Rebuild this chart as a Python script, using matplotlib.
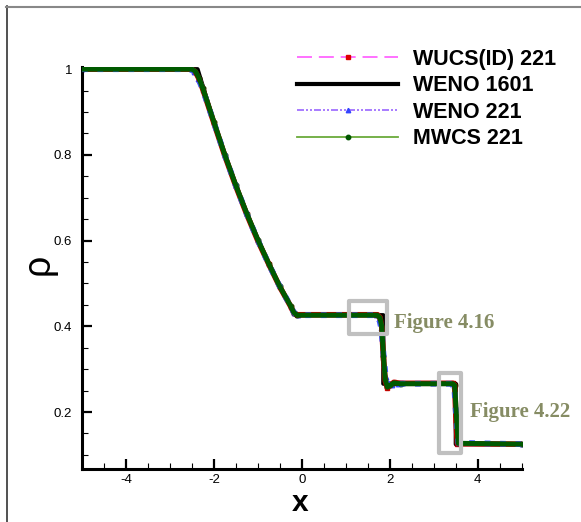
import matplotlib
matplotlib.use("Agg")
import matplotlib.pyplot as plt
from matplotlib.lines import Line2D
from matplotlib.patches import Rectangle
from matplotlib.ticker import MultipleLocator

plt.rcParams['font.family'] = ['Liberation Sans', 'DejaVu Sans']

# reference solution, 1601 points
x_weno1601 = [-5.0, -2.37, -2.25, -2.0, -1.75, -1.5, -1.25, -1.0, -0.75, -0.5, -0.25, -0.14,
              1.855, 1.855, 3.504, 3.504, 5.0]
rho_weno1601 = [1.0, 1.0, 0.960, 0.878, 0.801, 0.730, 0.664, 0.603, 0.547, 0.494, 0.446, 0.426,
                0.426, 0.266, 0.266, 0.125, 0.125]

# 221-point solutions
x_wucs = [-5.0, -2.50, -2.42, -2.34, -2.25, -2.0, -1.75, -1.5, -1.25, -1.0, -0.75, -0.5, -0.25,
          -0.18, -0.10, 1.72, 1.78, 1.82, 1.86, 1.90, 1.95, 2.00, 2.10, 2.25, 3.44, 3.48, 3.51,
          3.54, 5.0]
rho_wucs = [1.0, 1.0, 0.994, 0.978, 0.953, 0.875, 0.798, 0.727, 0.661, 0.600, 0.545, 0.492,
            0.446, 0.431, 0.427, 0.427, 0.421, 0.398, 0.325, 0.272, 0.256, 0.263, 0.269, 0.267,
            0.267, 0.263, 0.180, 0.126, 0.125]

x_weno221 = [-5.0, -2.52, -2.44, -2.35, -2.25, -2.0, -1.75, -1.5, -1.25, -1.0, -0.75, -0.5,
             -0.25, -0.18, -0.08, 1.70, 1.76, 1.81, 1.86, 1.91, 1.97, 2.05, 2.20, 3.43, 3.47,
             3.51, 3.56, 5.0]
rho_weno221 = [1.0, 1.0, 0.993, 0.977, 0.952, 0.876, 0.799, 0.728, 0.662, 0.601, 0.545, 0.493,
               0.447, 0.432, 0.426, 0.426, 0.418, 0.395, 0.335, 0.282, 0.262, 0.264, 0.266,
               0.266, 0.260, 0.195, 0.128, 0.125]

x_mwcs = [-5.0, -2.50, -2.42, -2.34, -2.25, -2.0, -1.75, -1.5, -1.25, -1.0, -0.75, -0.5, -0.25,
          -0.18, -0.10, 1.72, 1.78, 1.82, 1.86, 1.90, 1.95, 2.00, 2.10, 2.25, 3.44, 3.48, 3.52,
          3.56, 5.0]
rho_mwcs = [1.0, 1.0, 0.995, 0.980, 0.955, 0.877, 0.800, 0.729, 0.663, 0.602, 0.546, 0.493,
            0.447, 0.432, 0.426, 0.426, 0.420, 0.400, 0.330, 0.275, 0.258, 0.262, 0.268, 0.266,
            0.266, 0.262, 0.190, 0.127, 0.125]

x_ticks = [-4, -2, 0, 2, 4]
y_ticks = [0.2, 0.4, 0.6, 0.8, 1.0]
y_tick_labels = ['0.2', '0.4', '0.6', '0.8', '1']

# zoom boxes: (x0, y0, width, height) and their labels
boxes = [(1.08, 0.382, 0.85, 0.078), (3.13, 0.105, 0.49, 0.187)]
box_labels = ['Figure 4.16', 'Figure 4.22']
box_label_pos = [(2.11, 0.408), (3.83, 0.199)]

fig = plt.figure(figsize=(5.81, 5.22), dpi=100)
ax = fig.add_axes([0.1411, 0.1015, 0.7565, 0.7701])

# reference line
ax.plot(x_weno1601, rho_weno1601, color='black', lw=3.0, zorder=3, label='WENO 1601')

# styled lines for the legend
ax.plot(x_wucs, rho_wucs, color='#ff66ff', lw=1.3, dashes=(8.3, 3.8), marker='s',
        markersize=3.4, markerfacecolor='#dd0000', markeredgecolor='#dd0000', zorder=2,
        label='WUCS(ID) 221')
ax.plot(x_weno221, rho_weno221, color='#9966ff', lw=1.2,
        dashes=(4.2, 1.2, 1.2, 1.2, 1.2, 1.2), marker='^', markersize=3.2,
        markerfacecolor='#3344ff', markeredgecolor='#3344ff', zorder=2, label='WENO 221')
ax.plot(x_mwcs, rho_mwcs, color='#6aaa3a', lw=1.3, marker='o', markersize=3.2,
        markerfacecolor='#005500', markeredgecolor='#005500', zorder=2, label='MWCS 221')

# dense markers of the 221-point runs look like bands
ax.plot(x_wucs, rho_wucs, color='#c00000', lw=4.0, zorder=4)
ax.plot(x_weno221, rho_weno221, color='#4455ff', lw=4.2, ls=':', zorder=5)
ax.plot(x_mwcs, rho_mwcs, color='#005a00', lw=3.6, zorder=6)

for (bx, by, bw, bh), lab, (tx, ty) in zip(boxes, box_labels, box_label_pos):
    ax.add_patch(Rectangle((bx, by), bw, bh, fill=False, ec='#c0c0c0', lw=3,
                           joinstyle='round', zorder=7))
    ax.text(tx, ty, lab, family='Liberation Serif', weight='bold', fontsize=15,
            color='#868c64', va='center', ha='left', clip_on=False)

ax.set_xlim(-5, 5)
ax.set_ylim(0.067, 1.005)
ax.set_xticks(x_ticks)
ax.set_xticklabels([str(t) for t in x_ticks])
ax.set_yticks(y_ticks)
ax.set_yticklabels(y_tick_labels)
ax.xaxis.set_minor_locator(MultipleLocator(0.5))
ax.yaxis.set_minor_locator(MultipleLocator(0.05))
ax.tick_params(which='major', direction='in', length=7, width=1.6, labelsize=9.5)
ax.tick_params(axis='x', which='major', pad=3.5)
ax.tick_params(axis='y', which='major', pad=7)
ax.tick_params(which='minor', direction='in', length=4, width=0.8)

for s in ['top', 'right']:
    ax.spines[s].set_visible(False)
for s in ['left', 'bottom']:
    ax.spines[s].set_linewidth(2.2)

ax.set_xlabel('x', fontsize=21.5, weight='bold')
ax.xaxis.set_label_coords(0.497, -0.0488)
ax.set_ylabel('ρ', fontsize=27)
ax.yaxis.set_label_coords(-0.057, 0.51)

handles, labels = ax.get_legend_handles_labels()
order = [1, 0, 2, 3]
ax.legend([handles[i] for i in order], [labels[i] for i in order],
          loc='upper left', bbox_to_anchor=(297 / 581, 1 - 49 / 522),
          bbox_transform=fig.transFigure, frameon=False, borderpad=0, borderaxespad=0,
          handlelength=4.7, handletextpad=0.7, labelspacing=0.25, numpoints=1,
          prop={'weight': 'bold', 'size': 15.5})

# frame lines at the top and left of the picture
fig.add_artist(Line2D([6.5 / 581, 6.5 / 581], [0, 1 - 6 / 522], transform=fig.transFigure,
                      color='#333333', lw=1.2))
fig.add_artist(Line2D([6 / 581, 1], [1 - 6.5 / 522, 1 - 6.5 / 522], transform=fig.transFigure,
                      color='#888888', lw=1.5))

fig.savefig('out.png', dpi=100)
